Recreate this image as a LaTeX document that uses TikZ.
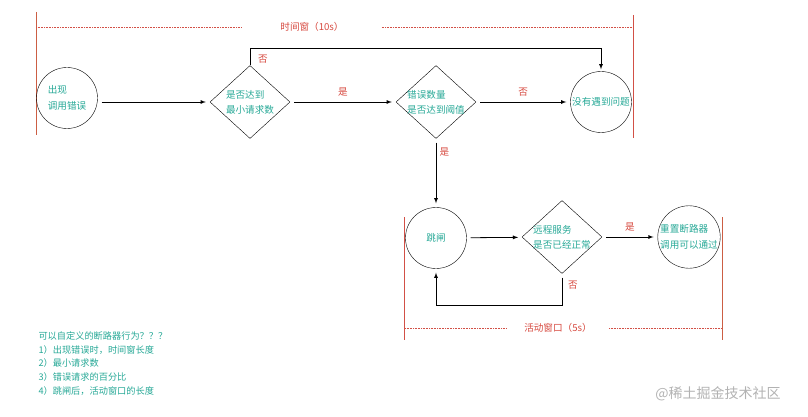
\documentclass[tikz,border=0pt]{standalone}
\usepackage{fontspec}
\setmainfont{Noto Sans CJK SC}
\usetikzlibrary{shapes,arrows,positioning,calc}
\definecolor{labelgreen}{RGB}{38,168,150}
\definecolor{answerred}{RGB}{214,72,62}
\definecolor{windowred}{RGB}{210,80,70}
\tikzset{
    state/.style={
        circle,
        draw,
        minimum size=61pt,
        inner sep=0pt,
        align=left,
        text=labelgreen,
        font=\fontsize{9.6}{15.5}\selectfont
    },
    decision/.style={
        diamond,
        draw,
        minimum width=80pt,
        minimum height=73pt,
        inner sep=-5pt,
        align=left,
        text=labelgreen,
        font=\fontsize{9.6}{15}\selectfont
    },
    flow/.style={-latex, line width=0.8pt, shorten <=4pt, shorten >=4pt},
    answer/.style={text=answerred, font=\fontsize{9.6}{11}\selectfont},
    window/.style={windowred, line width=1pt},
    span/.style={windowred, densely dotted, line width=0.6pt}
}

\begin{document}
\begin{tikzpicture}[x=1pt, y=-1pt]
    \useasboundingbox (0,0) rectangle (808,417);

    % sliding window, 10s
    \draw [window, color=windowred!70!brown] (36,12) -- (36,135);
    \draw [window] (633,15) -- (633,138);
    \node (win10) [answer, inner xsep=38pt] at (312,27) {时间窗（10s）};
    \draw [span] (36,27) -- (win10.west);
    \draw [span] (win10.east) -- (633,27);

    \node (error) [state] at (67,98) {出现\\调用错误};
    \node (minreq) [decision] at (250,102) {是否达到\\最小请求数};
    \node (ratio) [decision] at (436,102) {错误数量\\是否达到阈值};
    \node (fine) [state] at (601,102) {没有遇到问题};

    \draw [flow] (error.east |- minreq) -- (minreq);
    \draw [flow] (minreq) -- node [answer, above, yshift=2pt] {是} (ratio);
    \draw [flow] (ratio) -- node [answer, above, yshift=2pt] {否} (fine);
    \draw [flow, shorten <=0pt, shorten >=2pt] (minreq.north) |- (250,48) -| (fine.north);
    \node [answer] at (263,59) {否};

    % open breaker, 5s
    \node (trip) [state] at (436,238) {跳闸};
    \node (remote) [decision] at (562,237) {远程服务\\是否已经正常};
    \node (reset) [state] at (689,237) {重置断路器\\调用可以通过};

    \draw [flow] (ratio) -- node [answer, right, pos=0.2] {是} (trip);
    \draw [flow] (trip) -- (remote);
    \draw [flow] (remote) -- node [answer, above, yshift=2pt] {是} (reset);
    \draw [flow] (remote.south) -- ++(0,32) -| (trip.south);
    \node [answer] at (573,285) {否};

    \draw [window] (404,217) -- (404,340);
    \draw [window, color=windowred!70!brown] (722,217) -- (722,340);
    \node (win5) [answer, inner xsep=17pt] at (558,328) {活动窗口（5s）};
    \draw [span] (405,328) -- (win5.west);
    \draw [span] (win5.east) -- (722,328);

    \node (notes) [anchor=north west, align=left, text=labelgreen,
        font=\fontsize{9.2}{13.7}\selectfont] at (35,328)
        {可以自定义的断路器行为？？？\\
         1）出现错误时，时间窗长度\\
         2）最小请求数\\
         3）错误请求的百分比\\
         4）跳闸后，活动窗口的长度};

    \node (mark) [text=black!30, font=\fontsize{14}{16}\selectfont] at (718,394) {@稀土掘金技术社区};
\end{tikzpicture}
\end{document}
